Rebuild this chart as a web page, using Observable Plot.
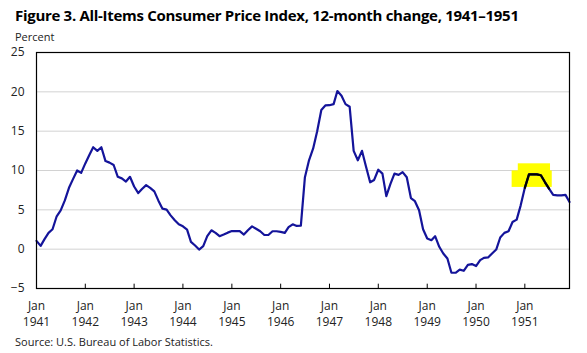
<!DOCTYPE html>
<html>
<head>
<meta charset="utf-8">
<script src="https://cdn.jsdelivr.net/npm/d3@7"></script>
<script src="https://cdn.jsdelivr.net/npm/@observablehq/plot@0.6"></script>
<style>
  html, body { margin: 0; padding: 0; background: #fff; }
  #wrap { position: relative; width: 587px; height: 353px; overflow: hidden; font-family: "Open Sans", sans-serif; }
  #chart { position: absolute; left: 0; top: 0; }
  #title { position: absolute; left: 15px; top: 5px; font-weight: 700; font-size: 15px; color: #000; white-space: nowrap; letter-spacing: -0.3px; }
  #unit { position: absolute; left: 15px; top: 29px; font-size: 11px; color: #222; }
  #source { position: absolute; left: 15px; top: 334px; font-size: 11px; color: #222; white-space: nowrap; }
</style>
</head>
<body>
<div id="wrap">
  <div id="chart"></div>
  <div id="title">Figure 3. All-Items Consumer Price Index, 12-month change, 1941–1951</div>
  <div id="unit">Percent</div>
  <div id="source">Source: U.S. Bureau  of Labor Statistics.</div>
</div>
<script>
// 12-month percent change, monthly, Jan–Dec of each year
const cpi1941 = [1.05, 0.42, 1.25, 2.07, 2.53, 4.18, 4.94, 6.2, 7.8, 8.9, 10.0, 9.7];
const cpi1942 = [10.9, 12.0, 12.96, 12.5, 12.96, 11.2, 11.0, 10.7, 9.2, 9.0, 8.6, 9.2];
const cpi1943 = [7.97, 7.13, 7.64, 8.14, 7.8, 7.34, 6.2, 5.15, 5.02, 4.3, 3.67, 3.16];
const cpi1944 = [2.9, 2.49, 0.93, 0.46, -0.05, 0.38, 1.65, 2.4, 2.07, 1.65, 1.86, 2.1];
const cpi1945 = [2.3, 2.3, 2.3, 1.86, 2.4, 2.9, 2.6, 2.28, 1.8, 1.8, 2.28, 2.28];
const cpi1946 = [2.2, 2.07, 2.8, 3.16, 2.95, 3.0, 9.1, 11.3, 12.8, 15.0, 17.7, 18.27];
const cpi1947 = [18.3, 18.44, 20.1, 19.5, 18.44, 18.1, 12.5, 11.3, 12.5, 10.5, 8.5, 8.8];
const cpi1948 = [10.1, 9.6, 6.75, 8.3, 9.6, 9.45, 9.8, 9.15, 6.5, 6.1, 4.94, 2.53];
const cpi1949 = [1.35, 1.14, 1.65, 0.3, -0.55, -1.18, -3.0, -3.0, -2.6, -2.75, -2.0, -1.9];
const cpi1950 = [-2.15, -1.4, -1.1, -1.05, -0.55, -0.05, 1.48, 2.07, 2.28, 3.46, 3.76, 5.57];
const cpi1951 = [7.8, 9.5, 9.5, 9.5, 9.4, 8.5, 7.7, 6.9, 6.85, 6.85, 6.9, 6.0];

const years = [1941, 1942, 1943, 1944, 1945, 1946, 1947, 1948, 1949, 1950, 1951];
const yTicks = [-5, 0, 5, 10, 15, 20, 25];
const gridValues = [0, 5, 10, 15, 20];

// highlighted span (black segment) and yellow marker boxes
const highlightStart = "1951-01-01";
const highlightEnd = "1951-07-01";
const markerBoxes = [
  {x1: "1950-09-28", x2: "1951-07-25", y1: 7.85, y2: 9.95},
  {x1: "1950-11-13", x2: "1951-07-12", y1: 9.85, y2: 10.85}
];

const series = [cpi1941, cpi1942, cpi1943, cpi1944, cpi1945, cpi1946, cpi1947, cpi1948, cpi1949, cpi1950, cpi1951];
const data = [];
series.forEach((arr, yi) => arr.forEach((v, m) => data.push({date: new Date(Date.UTC(years[yi], m, 1)), value: v})));
const hs = new Date(highlightStart), he = new Date(highlightEnd);
const highlighted = data.filter(d => d.date >= hs && d.date <= he);
const boxes = markerBoxes.map(b => ({x1: new Date(b.x1), x2: new Date(b.x2), y1: b.y1, y2: b.y2}));
const janTicks = years.map(y => new Date(Date.UTC(y, 0, 1)));
const innerTicks = janTicks.slice(1);

const chart = Plot.plot({
  width: 587,
  height: 353,
  marginLeft: 36,
  marginRight: 18,
  marginTop: 52,
  marginBottom: 65,
  style: {background: "transparent", fontFamily: "Open Sans, sans-serif", fontSize: "12px", color: "#222"},
  x: {type: "utc", domain: [new Date(Date.UTC(1941, 0, 1)), new Date(Date.UTC(1951, 11, 1))]},
  y: {domain: [-5, 25]},
  marks: [
    Plot.ruleY(gridValues, {stroke: "#d2d2d2", strokeWidth: 1}),
    Plot.rect(boxes, {x1: "x1", x2: "x2", y1: "y1", y2: "y2", fill: "#ffff00"}),
    Plot.line(data, {x: "date", y: "value", stroke: "#14149a", strokeWidth: 2.2, strokeLinejoin: "round"}),
    Plot.line(highlighted, {x: "date", y: "value", stroke: "#000", strokeWidth: 2.2, strokeLinejoin: "round"}),
    Plot.ruleX(innerTicks, {y1: -5, y2: -4.45, stroke: "#000", strokeWidth: 1}),
    Plot.frame({stroke: "#000", strokeWidth: 1.2}),
    Plot.axisY({ticks: yTicks, tickSize: 0, tickPadding: 12, label: null, fontSize: 12}),
    Plot.axisX({ticks: janTicks, tickSize: 0, tickPadding: 13, tickFormat: () => "Jan", label: null, fontSize: 12}),
    Plot.axisX({ticks: janTicks, tickSize: 0, tickPadding: 29, tickFormat: d => String(d.getUTCFullYear()), label: null, fontSize: 12})
  ]
});
document.getElementById("chart").appendChild(chart);
</script>
</body>
</html>
